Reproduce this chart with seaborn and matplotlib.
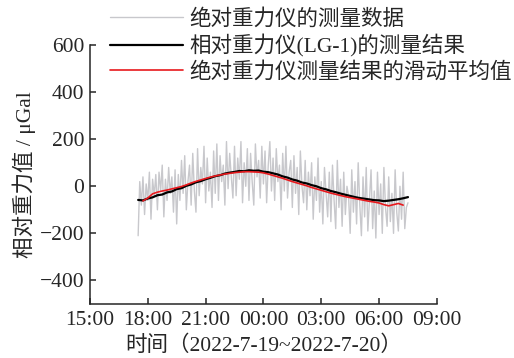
import numpy as np
import pandas as pd
import seaborn as sns
import matplotlib.dates as mdates
from matplotlib import pyplot as plt

# gravity values in μGal
abs_gravity = [
    -210, 20, -80, 40, -120, 10, -60, 60, -140, 30, -40, 50,
    -100, 60, -20, 90, -130, 30, -60, 80, -30, 40, -110, 70,
    -160, 50, -60, 110, -30, 130, -100, 20, 90, -80, 140, -20,
    -110, 160, -40, 80, 10, 170, -70, 120, -20, 60, -90, 150,
    -30, 180, -60, 130, 20, 90, -80, 190, -10, 140, 40, -50,
    170, -40, 120, 30, 190, -70, 100, 0, 160, -60, 140, 20,
    -80, 180, 40, 110, -50, 170, 10, 150, -70, 90, 190, -20,
    120, -60, 160, 20, 90, -100, 140, -20, 170, -50, 60, 110,
    -90, 130, -30, 80, -120, 150, 0, -70, 110, -100, 60, -40,
    100, -140, 40, -60, 120, -110, 20, -160, 80, -30, -130, 60,
    -150, 90, -60, -180, 110, -90, 30, -170, 60, -120, 0, -40,
    -200, 70, -110, 20, -160, 100, -80, -210, 40, -130, 80, -190,
    -60, 70, -180, -20, -220, 60, -120, 10, -200, 80, -90, -170,
    40, -150, -30, -200, 70, -110, -190, 0, -140, 60, -180, -90, -70,
]
rel_gravity = [
    -58, -60, -52, -47, -38, -35, -26, -22, -12, -8, 2, 8, 17, 22, 30, 36,
    43, 47, 54, 58, 61, 65, 64, 68, 66, 67, 62, 60, 55, 50, 42, 37, 29, 24,
    16, 12, 5, 0, -8, -13, -20, -25, -31, -36, -41, -46, -50, -53, -56, -59,
    -60, -63, -61, -58, -55, -51, -46,
]
moving_avg = [
    -62, -50, -32, -25, -20, -16, -11, -6, -1, 6, 14, 21, 27, 33, 39, 44,
    48, 52, 55, 58, 60, 62, 62, 61, 60, 57, 52, 46, 40, 34, 27, 20, 14, 8,
    2, -5, -11, -17, -23, -29, -34, -39, -44, -48, -52, -56, -60, -64, -67,
    -71, -78, -83, -78, -73, -80,
]

abs_start = pd.Timestamp('2022-07-19 17:30')
rel_start = pd.Timestamp('2022-07-19 17:30')
avg_start = pd.Timestamp('2022-07-19 17:45')

abs_df = pd.DataFrame({'t': abs_start + pd.to_timedelta(np.arange(len(abs_gravity)) * 5, unit='min'),
                       'g': abs_gravity})
rel_df = pd.DataFrame({'t': rel_start + pd.to_timedelta(np.arange(len(rel_gravity)) * 15, unit='min'),
                       'g': rel_gravity})
avg_df = pd.DataFrame({'t': avg_start + pd.to_timedelta(np.arange(len(moving_avg)) * 15, unit='min'),
                       'g': moving_avg})

sns.set_style('ticks')
plt.rcParams['font.family'] = ['Liberation Serif', 'Noto Sans CJK SC']
plt.rcParams['axes.unicode_minus'] = True

fig = plt.figure(figsize=(5.14, 3.58), dpi=100)
ax = fig.add_axes([0.175, 0.151, 0.675, 0.723])

sns.lineplot(data=abs_df, x='t', y='g', ax=ax, color='#c8c8cc', lw=1.0,
             label='绝对重力仪的测量数据')
sns.lineplot(data=rel_df, x='t', y='g', ax=ax, color='black', lw=2.6,
             label='相对重力仪(LG-1)的测量结果')
sns.lineplot(data=avg_df, x='t', y='g', ax=ax, color='#e8191d', lw=1.2,
             label='绝对重力仪测量结果的滑动平均值')

ax.set_xlim(pd.Timestamp('2022-07-19 15:00'), pd.Timestamp('2022-07-20 09:00'))
ax.set_ylim(-500, 600)
ax.set_yticks([-400, -200, 0, 200, 400, 600])
ax.xaxis.set_major_locator(mdates.HourLocator(byhour=range(0, 24, 3)))
ax.xaxis.set_major_formatter(mdates.DateFormatter('%H:%M'))
ax.tick_params(direction='in', length=4, width=1.1, labelsize=15.5)
ax.tick_params(axis='x', pad=5)
ax.tick_params(axis='y', pad=4)
for s in ['left', 'bottom']:
    ax.spines[s].set_linewidth(1.1)
sns.despine(ax=ax)

ax.set_xlabel('时间（2022-7-19~2022-7-20）', fontsize=15.5, labelpad=4)
ax.set_ylabel('相对重力值 / μGal', fontsize=15.5, labelpad=3)

handles, labels = ax.get_legend_handles_labels()
handles[1].set_linewidth(1.6)
ax.get_legend().remove()
fig.legend(handles, labels, loc='upper left', bbox_to_anchor=(110 / 514, 1 - 9 / 358),
           frameon=False, fontsize=15.5, handlelength=3.4, handletextpad=0.3,
           borderpad=0, borderaxespad=0, labelspacing=0.22)

fig.savefig('out.png', dpi=100)
